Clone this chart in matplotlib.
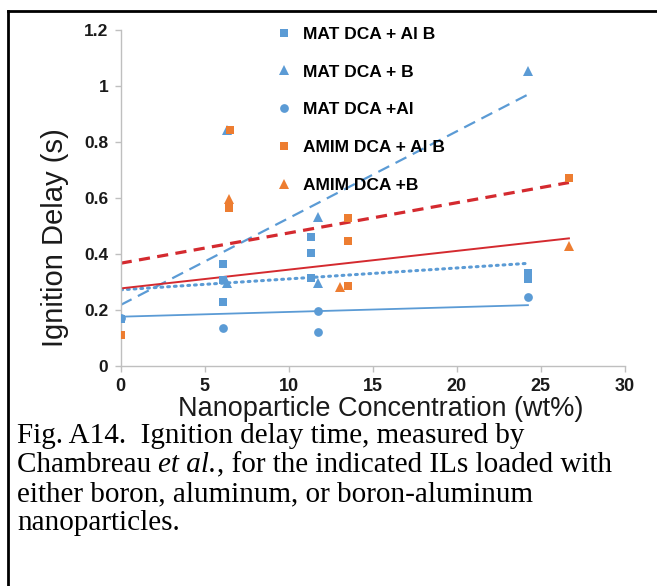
import numpy as np
import matplotlib
matplotlib.use('Agg')
import matplotlib.pyplot as plt
from matplotlib.lines import Line2D

plt.rcParams['font.family'] = ['Liberation Sans', 'DejaVu Sans']

# 数据点
series = ['MAT DCA + Al B', 'MAT DCA + B', 'MAT DCA +Al', 'AMIM DCA + Al B', 'AMIM DCA +B']

mat_alb_x = [0, 6.07, 6.07, 6.07, 11.33, 11.33, 11.33, 24.24, 24.24]
mat_alb_y = [0.168, 0.362, 0.306, 0.229, 0.458, 0.402, 0.315, 0.332, 0.310]

mat_b_x = [6.31, 6.31, 11.77, 11.77, 24.24]
mat_b_y = [0.843, 0.295, 0.532, 0.297, 1.054]

mat_al_x = [0, 6.07, 11.77, 11.77, 24.24]
mat_al_y = [0.170, 0.134, 0.196, 0.122, 0.246]

amim_alb_x = [0, 6.5, 6.46, 13.55, 13.55, 13.55, 26.68]
amim_alb_y = [0.110, 0.841, 0.565, 0.526, 0.447, 0.285, 0.672]

amim_b_x = [6.46, 13.05, 26.68]
amim_b_y = [0.594, 0.280, 0.427]

# 趋势线 (截距, 斜率, x终点)
trend_intercept = [0.271, 0.217, 0.175, 0.366, 0.276]
trend_slope = [0.0039, 0.0310, 0.0017, 0.0108, 0.0067]
trend_xmax = [24.24, 24.24, 24.24, 26.68, 26.68]

xticks = [0, 5, 10, 15, 20, 25, 30]
yticks = [0, 0.2, 0.4, 0.6, 0.8, 1.0, 1.2]
ytick_labels = ['0', '0.2', '0.4', '0.6', '0.8', '1', '1.2']

caption = ['Fig. A14.  Ignition delay time, measured by',
           'either boron, aluminum, or boron-aluminum',
           'nanoparticles.']

blue = '#5B9BD5'
orange = '#ED7D31'
red = '#D42A2F'

W, H = 657, 586
fig = plt.figure(figsize=(W / 100, H / 100), dpi=100)
ax = fig.add_axes([120.7 / W, 1 - 365.7 / H, 504 / W, 336 / H])

xs = [mat_alb_x, mat_b_x, mat_al_x, amim_alb_x, amim_b_x]
ys = [mat_alb_y, mat_b_y, mat_al_y, amim_alb_y, amim_b_y]
colors = [blue, blue, blue, orange, orange]
markers = ['s', '^', 'o', 's', '^']
msizes = [6.3, 6.8, 6.3, 6.3, 6.8]

for i in range(len(series)):
    ax.plot(xs[i], ys[i], linestyle='none', marker=markers[i], color=colors[i],
            markersize=msizes[i], markeredgewidth=0, label=series[i], zorder=3)

# 趋势线
tstyles = [dict(color=blue, lw=2.2, linestyle=(0, (0.6, 1.6)), dash_capstyle='round'),
           dict(color=blue, lw=1.6, linestyle=(0, (5.5, 3.2))),
           dict(color=blue, lw=1.3, linestyle='-'),
           dict(color=red, lw=2.3, linestyle=(0, (3.5, 2.3))),
           dict(color=red, lw=1.4, linestyle='-')]
for i in range(len(series)):
    tx = np.array([0, trend_xmax[i]])
    ax.plot(tx, trend_intercept[i] + trend_slope[i] * tx, zorder=2, **tstyles[i])

ax.set_xlim(0, 30)
ax.set_ylim(0, 1.2)
ax.set_xticks(xticks)
ax.set_yticks(yticks)
ax.set_yticklabels(ytick_labels)
for s in ['top', 'right']:
    ax.spines[s].set_visible(False)
for s in ['left', 'bottom']:
    ax.spines[s].set_color('#BFBFBF')
    ax.spines[s].set_linewidth(1)
ax.tick_params(direction='out', length=4, width=1, color='#BFBFBF', labelcolor='#1a1a1a')
ax.tick_params(axis='x', labelsize=13, pad=5)
ax.tick_params(axis='y', labelsize=12.5, pad=5)
for t in ax.get_xticklabels() + ax.get_yticklabels():
    t.set_fontweight('bold')

fig.text(55 / W, 1 - 237.5 / H, 'Ignition Delay (s)', rotation=90, ha='center', va='center',
         fontsize=21, color='#1a1a1a')
fig.text(381 / W, 1 - 408.5 / H, 'Nanoparticle Concentration (wt%)', ha='center', va='center',
         fontsize=19.5, color='#1a1a1a')

leg = ax.legend(loc='upper left', bbox_to_anchor=(267 / W, 1 - 18 / H), bbox_transform=fig.transFigure,
                frameon=False, borderpad=0, handlelength=1, handletextpad=0.6, labelspacing=1.3,
                prop=dict(weight='bold', size=12.5))

# 说明文字
serif = ['Liberation Serif', 'DejaVu Serif']
cfs = 21
fig.text(17 / W, 1 - 443 / H, caption[0], fontsize=cfs, family=serif, va='baseline')
r = fig.canvas.get_renderer()
t1 = fig.text(17 / W, 1 - 472 / H, 'Chambreau ', fontsize=cfs, family=serif, va='baseline')
x1 = t1.get_window_extent(r).x1
t2 = fig.text(x1 / W, 1 - 472 / H, 'et al.', fontsize=cfs, family=serif, style='italic', va='baseline')
x2 = t2.get_window_extent(r).x1
fig.text(x2 / W, 1 - 472 / H, ', for the indicated ILs loaded with', fontsize=cfs, family=serif, va='baseline')
fig.text(17 / W, 1 - 501 / H, caption[1], fontsize=cfs, family=serif, va='baseline')
fig.text(17 / W, 1 - 530 / H, caption[2], fontsize=cfs, family=serif, va='baseline')

# 外框
fig.add_artist(Line2D([8 / W, 8 / W], [-0.1, 1 - 11 / H], color='black', lw=2, transform=fig.transFigure))
fig.add_artist(Line2D([8 / W, 1.1], [1 - 11 / H, 1 - 11 / H], color='black', lw=2, transform=fig.transFigure))

fig.savefig('out.png', dpi=100)
